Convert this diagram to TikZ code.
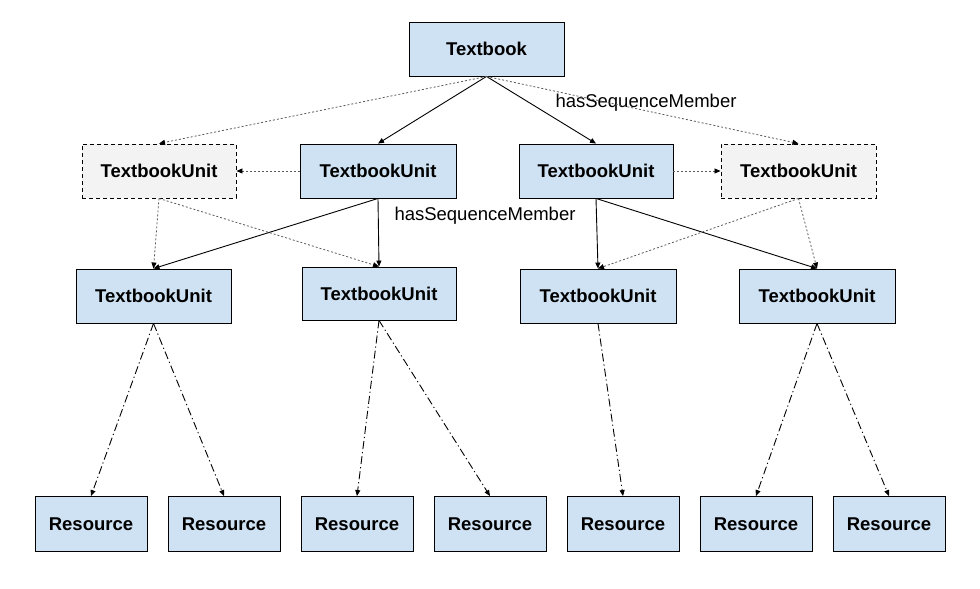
\documentclass[tikz,border=0pt]{standalone}
\usepackage{fontspec}
\setmainfont{Liberation Sans}
\usetikzlibrary{arrows.meta}
\definecolor{boxblue}{HTML}{CFE2F3}
\definecolor{boxgray}{HTML}{F3F3F3}
\definecolor{dotgray}{HTML}{5A5A5A}
\tikzset{
  unitbox/.style={draw, line width=0.9pt, fill=boxblue, minimum width=155pt,
    minimum height=54pt, inner sep=0pt, font=\fontsize{18.5}{22}\selectfont\bfseries},
  ghostbox/.style={unitbox, fill=boxgray, dash pattern=on 4pt off 3pt},
  resbox/.style={unitbox, minimum width=112pt, minimum height=55pt},
  member/.style={-{Triangle[length=6pt,width=5pt]}, line width=0.9pt},
  maybe/.style={-{Triangle[length=6pt,width=5pt,black]}, line width=0.8pt,
    draw=dotgray, dash pattern=on 2pt off 2pt},
  holds/.style={member, dash pattern=on 8pt off 3pt on 1.2pt off 3pt},
  rel/.style={font=\fontsize{18.5}{22}\selectfont}
}
\begin{document}
\begin{tikzpicture}[x=1pt,y=-1pt]
  \useasboundingbox (0,0) rectangle (980,589);

  \node[unitbox] (tb) at (486.5,49) {Textbook};

  \node[ghostbox, minimum width=154pt] (tu1) at (159,171) {TextbookUnit};
  \node[unitbox, minimum width=156pt] (tu2) at (378,171) {TextbookUnit};
  \node[unitbox, minimum width=154pt] (tu3) at (596,171) {TextbookUnit};
  \node[ghostbox] (tu4) at (798.5,171) {TextbookUnit};

  \node[unitbox] (tu5) at (153.5,296) {TextbookUnit};
  \node[unitbox, minimum width=154pt, minimum height=53pt] (tu6) at (379,293.5) {TextbookUnit};
  \node[unitbox, minimum width=156pt] (tu7) at (598,296) {TextbookUnit};
  \node[unitbox, minimum width=156pt] (tu8) at (817,296) {TextbookUnit};

  \foreach \i in {1,...,7} {
    \node[resbox] (res\i) at (-42+133*\i,524) {Resource};
  }

  \node[rel] (lab1) at (646,103) {hasSequenceMember};
  \node[rel] (lab2) at (485,216) {hasSequenceMember};

  % first level
  \draw[member] (tb.south) -- (tu2.north);
  \draw[member] (tb.south) -- (tu3.north);
  \draw[maybe] (tb.south) -- (tu1.north);
  \draw[maybe] (tb.south) -- (tu4.north);
  \draw[maybe] (tu2.west) -- (tu1.east);
  \draw[maybe] (tu3.east) -- (tu4.west);

  % second level
  \draw[member] (tu2.south) -- (tu5.north);
  \draw[member] (tu2.south) -- (tu6.north);
  \draw[member] (tu3.south) -- (tu7.north);
  \draw[member] (tu3.south) -- (tu8.north);
  \draw[maybe] (tu1.south) -- (tu5.north);
  \draw[maybe] (tu1.south) -- (tu6.north);
  \draw[maybe] (tu4.south) -- (tu7.north);
  \draw[maybe] (tu4.south) -- (tu8.north);

  % resources
  \draw[holds] (tu5.south) -- (res1.north);
  \draw[holds] (tu5.south) -- (res2.north);
  \draw[holds] (tu6.south) -- (res3.north);
  \draw[holds] (tu6.south) -- (res4.north);
  \draw[holds] (tu7.south) -- (res5.north);
  \draw[holds] (tu8.south) -- (res6.north);
  \draw[holds] (tu8.south) -- (res7.north);
\end{tikzpicture}
\end{document}
